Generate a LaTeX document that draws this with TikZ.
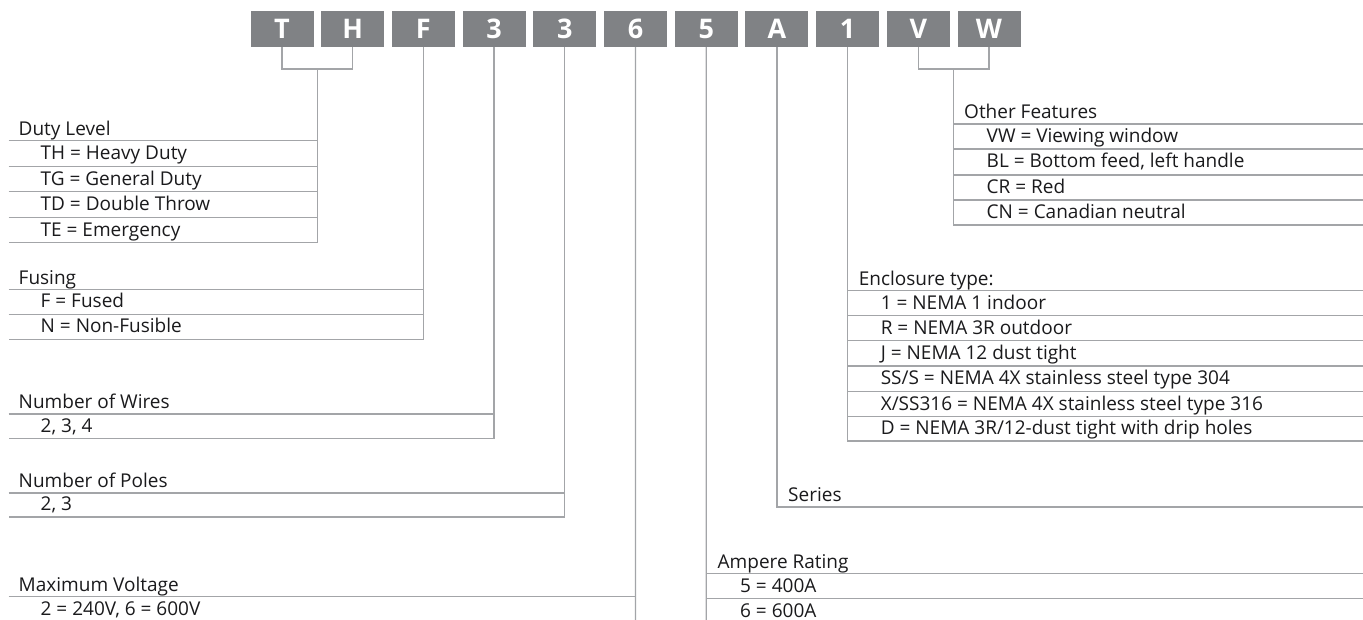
\documentclass[tikz,border=0pt]{standalone}
\usepackage{fontspec}
\setmainfont{Open Sans}
\usepackage{tikz}
\usepackage{xcolor}
\definecolor{code-gray}{RGB}{128,130,133}
\definecolor{rule-gray}{RGB}{163,165,168}
\definecolor{label-black}{RGB}{26,26,28}
\tikzset{
    code-box/.style = {fill=code-gray, text=white, minimum width=63pt, minimum height=36pt, inner sep=0pt, font=\fontsize{27}{27}\selectfont\bfseries},
    code-line/.style = {draw=rule-gray, line width=1.3pt},
    table-head/.style = {anchor=base west, inner sep=0pt, text=label-black, font=\fontsize{19}{21}\selectfont},
    table-item/.style = {table-head},
}

\begin{document}
\begin{tikzpicture}[x=1pt,y=-1pt]
\useasboundingbox (0,0) rectangle (1363,620);

\foreach \ch [count=\i from 0] in {T,H,F,3,3,6,5,A,1,V,W}
    \node[code-box] (box\i) at ({282+70.7*\i},29) {\ch};

% duty level
\coordinate (duty-top) at (317.4,69);
\coordinate (duty-end) at (8.5,242.7);
\draw[code-line] (box0.south) |- (duty-top) -| (box1.south);
\draw[code-line] (duty-top) |- (duty-end);
\foreach \y in {140.7,166.2,191.7,217.2}
    \draw[code-line] (8.5,\y) -- (317.4,\y);
\node[table-head] (duty) at (18.5,135.5) {Duty Level};
\node[table-item] (duty-th) at (40.5,159.7) {TH = Heavy Duty};
\node[table-item] (duty-tg) at (40.5,185.2) {TG = General Duty};
\node[table-item] (duty-td) at (40.5,210.7) {TD = Double Throw};
\node[table-item] (duty-te) at (40.5,236.2) {TE = Emergency};

% fusing
\coordinate (fuse-end) at (8.5,339.5);
\draw[code-line] (box2.south) |- (fuse-end);
\foreach \y in {289.5,314.5}
    \draw[code-line] (8.5,\y) -- (423.4,\y);
\node[table-head] (fuse) at (18.5,284.2) {Fusing};
\node[table-item] (fuse-f) at (40.5,308) {F = Fused};
\node[table-item] (fuse-n) at (40.5,333) {N = Non-Fusible};

% wires
\coordinate (wire-end) at (8.5,438.5);
\draw[code-line] (box3.south) |- (wire-end);
\draw[code-line] (8.5,414) -- (494.1,414);
\node[table-head] (wire) at (18.5,408.7) {Number of Wires};
\node[table-item] (wire-n) at (40.5,432) {2, 3, 4};

% poles
\coordinate (pole-end) at (8.5,517);
\draw[code-line] (box4.south) |- (pole-end);
\draw[code-line] (8.5,493) -- (564.8,493);
\node[table-head] (pole) at (18.5,487.7) {Number of Poles};
\node[table-item] (pole-n) at (40.5,510.5) {2, 3};

% voltage
\coordinate (volt-end) at (635.5,621);
\draw[code-line] (box5.south) -- (volt-end);
\draw[code-line] (8.5,596.5) -- (635.5,596.5);
\node[table-head] (volt) at (18.5,591.2) {Maximum Voltage};
\node[table-item] (volt-n) at (40.5,615.5) {2 = 240V, 6 = 600V};

% ampere
\coordinate (amp-end) at (706.2,621);
\draw[code-line] (box6.south) -- (amp-end);
\foreach \y in {573.5,598.5}
    \draw[code-line] (706.2,\y) -- (1363,\y);
\node[table-head] (amp) at (717.5,568.2) {Ampere Rating};
\node[table-item] (amp-5) at (740,592) {5 = 400A};
\node[table-item] (amp-6) at (740,617) {6 = 600A};

% series
\coordinate (series-end) at (1363,507);
\draw[code-line] (box7.south) |- (series-end);
\node[table-head] (series) at (788,501.7) {Series};

% enclosure
\coordinate (encl-end) at (1363,441);
\draw[code-line] (box8.south) |- (encl-end);
\foreach \y in {290.7,315.7,340.7,366,391.3,416.7}
    \draw[code-line] (847.6,\y) -- (1363,\y);
\node[table-head] (encl) at (858.6,285.4) {Enclosure type:};
\node[table-item] (encl-1) at (880.6,309.2) {1 = NEMA 1 indoor};
\node[table-item] (encl-r) at (880.6,334.2) {R = NEMA 3R outdoor};
\node[table-item] (encl-j) at (880.6,359.5) {J = NEMA 12 dust tight};
\node[table-item] (encl-ss) at (880.6,384.8) {SS/S = NEMA 4X stainless steel type 304};
\node[table-item] (encl-x) at (880.6,410.2) {X/SS316 = NEMA 4X stainless steel type 316};
\node[table-item] (encl-d) at (880.6,434.5) {D = NEMA 3R/12-dust tight with drip holes};

% other features
\coordinate (other-top) at (953.7,69);
\coordinate (other-end) at (1363,225);
\draw[code-line] (box9.south) |- (other-top) -| (box10.south);
\draw[code-line] (other-top) |- (other-end);
\foreach \y in {124,149,175,200}
    \draw[code-line] (953.7,\y) -- (1363,\y);
\node[table-head] (other) at (964,118.7) {Other Features};
\node[table-item] (other-vw) at (986.5,142.5) {VW = Viewing window};
\node[table-item] (other-bl) at (986.5,168) {BL = Bottom feed, left handle};
\node[table-item] (other-cr) at (986.5,193.5) {CR = Red};
\node[table-item] (other-cn) at (986.5,218.5) {CN = Canadian neutral};
\end{tikzpicture}
\end{document}
